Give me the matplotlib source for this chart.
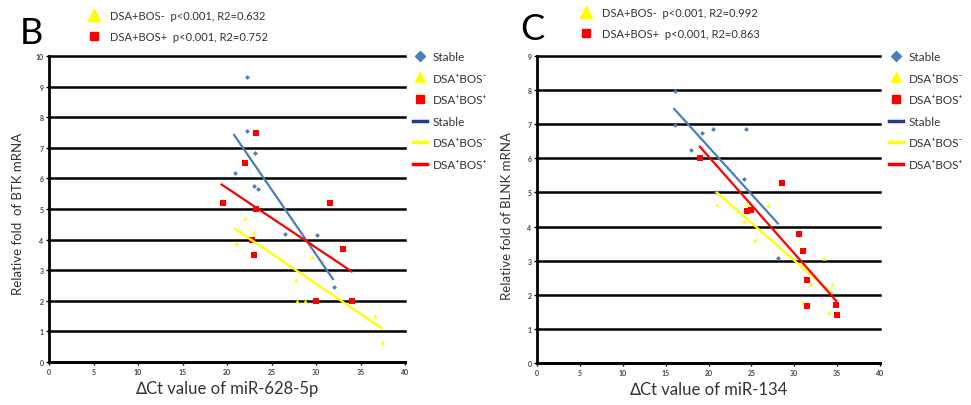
import numpy as np
import matplotlib
matplotlib.use("Agg")
import matplotlib.pyplot as plt
from matplotlib.lines import Line2D

plt.rcParams['font.family'] = ['Lato', 'DejaVu Sans']

# ---- panel B data (miR-628-5p vs BTK) ----
b_stable_x = [22.2, 22.25, 23.1, 20.9, 23.0, 23.5, 26.5, 30.1, 32.0]
b_stable_y = [9.3, 7.55, 6.83, 6.19, 5.75, 5.64, 4.19, 4.15, 2.45]
b_neg_x = [22.0, 23.0, 21.0, 22.8, 29.6, 30.7, 27.7, 27.9, 28.8, 36.6, 37.4]
b_neg_y = [4.7, 4.25, 3.89, 4.0, 3.44, 3.3, 2.69, 2.0, 2.0, 1.51, 0.66]
b_pos_x = [23.3, 22.0, 19.5, 23.3, 31.6, 22.8, 33.0, 23.0, 30.0, 34.0]
b_pos_y = [7.5, 6.49, 5.2, 5.0, 5.2, 4.0, 3.69, 3.49, 2.0, 2.0]
b_fit_stable = ([20.8, 31.9], [7.42, 2.71])
b_fit_neg = ([20.9, 37.4], [4.35, 1.1])
b_fit_pos = ([19.4, 34.0], [5.8, 2.96])

# ---- panel C data (miR-134 vs BLNK) ----
c_stable_x = [16.1, 16.1, 20.5, 24.4, 19.3, 18.0, 24.1, 20.9, 28.1]
c_stable_y = [7.98, 6.98, 6.87, 6.87, 6.73, 6.23, 5.38, 5.0, 3.08]
c_neg_x = [21.0, 24.5, 26.9, 24.1, 25.4, 33.5, 34.4, 32.0, 30.9, 34.0]
c_neg_y = [4.67, 4.63, 4.63, 4.16, 3.62, 3.07, 2.32, 2.32, 1.78, 1.49]
c_pos_x = [19.0, 28.6, 24.5, 25.0, 30.5, 31.0, 31.5, 31.5, 34.9, 35.0]
c_pos_y = [6.0, 5.29, 4.45, 4.5, 3.79, 3.29, 2.44, 1.68, 1.69, 1.41]
c_fit_stable = ([16.0, 28.1], [7.45, 4.09])
c_fit_neg = ([21.0, 34.4], [4.99, 2.04])
c_fit_pos = ([19.0, 34.9], [6.34, 1.82])

x_ticks = [0, 5, 10, 15, 20, 25, 30, 35, 40]
legend_labels = ["Stable", "DSA\u207aBOS\u207b", "DSA\u207aBOS\u207a",
                 "Stable", "DSA\u207aBOS\u207b", "DSA\u207aBOS\u207a"]

BLUE = "#4a7ebb"
NAVY = "#1f3b8c"
YEL = "#ffff00"
RED = "#ff0000"


def draw_panel(ax, stable, neg, pos, fits, ymax):
    ax.scatter(stable[0], stable[1], marker="D", s=6, color=BLUE, zorder=4, linewidths=0)
    ax.scatter(neg[0], neg[1], marker="^", s=10, color=YEL, zorder=4, linewidths=0)
    ax.scatter(pos[0], pos[1], marker="s", s=18, color=RED, zorder=4, linewidths=0)
    for (fx, fy), c in zip(fits, [BLUE, YEL, RED]):
        ax.plot(fx, fy, color=c, lw=1.6, zorder=5)

    ax.set_xlim(0, 40)
    ax.set_ylim(0, ymax)
    ax.set_xticks(x_ticks)
    ax.set_yticks(range(0, ymax + 1))
    ax.grid(axis="y", color="black", lw=1.8)
    for gl in ax.get_ygridlines():
        gl.set_clip_on(False)
    ax.set_axisbelow(True)
    for s in ["top", "right"]:
        ax.spines[s].set_visible(False)
    for s in ["left", "bottom"]:
        ax.spines[s].set_linewidth(2)
        ax.spines[s].set_color("black")
    ax.tick_params(labelsize=5, labelcolor="#444444", color="black",
                   length=2, width=1, pad=2)
    for lab in ax.get_xticklabels() + ax.get_yticklabels():
        lab.set_fontweight("bold")


fig = plt.figure(figsize=(9.71, 4.06), dpi=100)
axB = fig.add_axes([49 / 971, 43 / 406, 356 / 971, 306 / 406])
axC = fig.add_axes([537 / 971, 42 / 406, 343 / 971, 307 / 406])

draw_panel(axB, (b_stable_x, b_stable_y), (b_neg_x, b_neg_y), (b_pos_x, b_pos_y),
           [b_fit_stable, b_fit_neg, b_fit_pos], 10)
draw_panel(axC, (c_stable_x, c_stable_y), (c_neg_x, c_neg_y), (c_pos_x, c_pos_y),
           [c_fit_stable, c_fit_neg, c_fit_pos], 9)

axB.set_xlabel("\u2206Ct value of miR-628-5p", fontsize=12, color="#333333", labelpad=4)
axC.set_xlabel("\u2206Ct value of miR-134", fontsize=12, color="#333333", labelpad=4)
fig.text(18 / 971, 1 - 214 / 406, "Relative fold  of BTK mRNA", rotation=90,
         fontsize=9.5, color="#333333", ha="center", va="center")
fig.text(507 / 971, 1 - 216 / 406, "Relative fold of BLNK mRNA", rotation=90,
         fontsize=9.5, color="#333333", ha="center", va="center")

fig.text(20 / 971, 1 - 33 / 406, "B", fontsize=26, va="center", ha="left")
fig.text(520 / 971, 1 - 30 / 406, "C", fontsize=26, va="center", ha="left")


def side_legend(x_px):
    handles = [
        Line2D([], [], ls="", marker="D", ms=5, color=BLUE),
        Line2D([], [], ls="", marker="^", ms=7, color=YEL),
        Line2D([], [], ls="", marker="s", ms=6, color=RED),
        Line2D([], [], color=NAVY, lw=2.5),
        Line2D([], [], color=YEL, lw=2.5),
        Line2D([], [], color=RED, lw=2.5),
    ]
    fig.legend(handles, legend_labels, loc="upper left",
               bbox_to_anchor=(x_px / 971, 1 - 46 / 406), frameon=False,
               fontsize=8.5, labelspacing=0.9, handlelength=1.2,
               handletextpad=0.5, borderpad=0, labelcolor="#333333")


side_legend(407)
side_legend(883)


def stats_legend(x_px, y_px, r_neg, r_pos):
    handles = [
        Line2D([], [], ls="", marker="^", ms=8, color=YEL),
        Line2D([], [], ls="", marker="s", ms=6, color=RED),
    ]
    labels = ["DSA+BOS-  p<0.001, R2=" + r_neg, "DSA+BOS+  p<0.001, R2=" + r_pos]
    fig.legend(handles, labels, loc="upper left",
               bbox_to_anchor=(x_px / 971, 1 - y_px / 406), frameon=False,
               fontsize=8, labelspacing=0.9, handlelength=1.0,
               handletextpad=0.9, borderpad=0, labelcolor="#333333")


stats_legend(83, 5, "0.632", "0.752")
stats_legend(575, 2, "0.992", "0.863")

fig.savefig("out.png", dpi=100)
